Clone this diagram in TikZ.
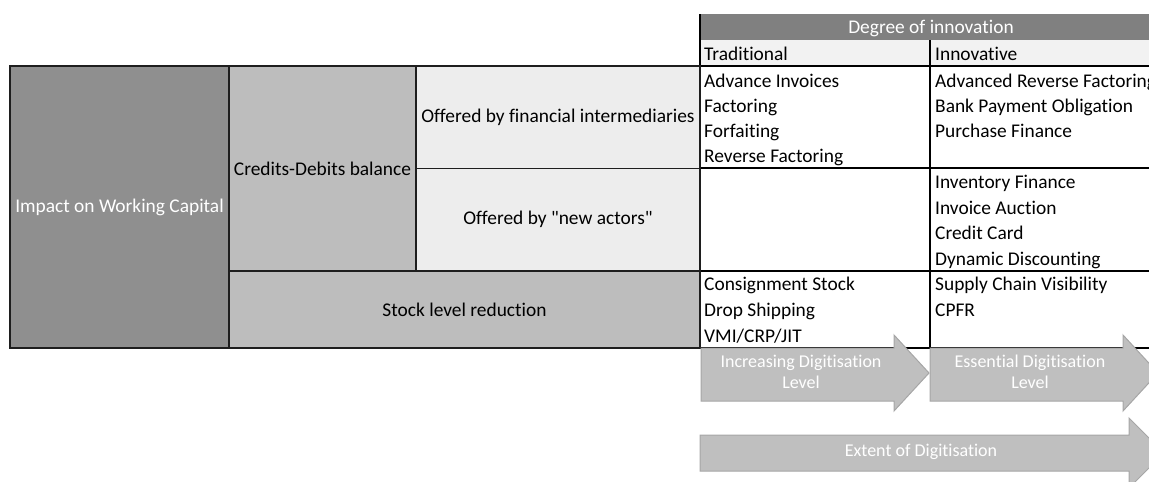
\documentclass[tikz,border=0pt]{standalone}
\usepackage{fontspec}
\setmainfont{Carlito}[Ligatures={TeX,NoCommon}]
\definecolor{headgray}{HTML}{808080}
\definecolor{rowgray}{HTML}{F2F2F2}
\definecolor{impactgray}{HTML}{8F8F8F}
\definecolor{midgray}{HTML}{BDBDBD}
\definecolor{palegray}{HTML}{EDEDED}
\definecolor{arrowgray}{HTML}{BFBFBF}
\definecolor{arrowedge}{HTML}{A6A6A6}
\definecolor{framegray}{HTML}{1E1E1E}

\begin{document}
\begin{tikzpicture}[x=1pt,y=-1pt,
        cell/.style={font=\fontsize{19.4}{25}\selectfont},
        item/.style={cell,anchor=base west,inner sep=0pt},
        digi/.style={fill=arrowgray,draw=arrowedge,line width=1pt},
        digitext/.style={font=\fontsize{18}{21.5}\selectfont,text=white,align=center}]
    \useasboundingbox (0,0) rectangle (1149,482);
    \clip (0,0) rectangle (1149,482);
    % fills
    \fill[impactgray] (10,66) rectangle (229,348);
    \fill[midgray] (229,66) rectangle (416,271);
    \fill[midgray] (229,271) rectangle (700,348);
    \fill[palegray] (416,66) rectangle (700,271);
    \fill[headgray] (700,14) rectangle (1162,40);
    \fill[rowgray] (700,40) rectangle (1162,66);
    % grid
    \draw[framegray,line width=1pt] (416,168) -- (700,168);
    \draw[framegray,line width=1.2pt] (229,271) -- (700,271);
    \draw[framegray,line width=2pt] (416,66) -- (416,271);
    \draw[framegray,line width=2pt] (229,66) -- (229,348);
    \foreach \y in {66,168,271,348}{
        \draw[line width=1.2pt] (700,\y) -- (1162,\y);
    }
    \draw[line width=1.5pt] (700,14) -- (700,348);
    \draw[line width=1.2pt] (930,40) -- (930,348);
    \draw[framegray,line width=2pt] (10,66) rectangle (700,348);
    % row labels
    \node[cell,text=white] (impact) at (119.5,207) {Impact on Working Capital};
    \node[cell] (credits) at (322.5,168.5) {Credits-Debits balance};
    \node[cell] (intermed) at (558,117) {Offered by financial intermediaries};
    \node[cell] (newactors) at (558,219.5) {Offered by \textquotedbl new actors\textquotedbl};
    \node[cell] (stock) at (464.5,309.5) {Stock level reduction};
    % column heads
    \node[cell,text=white,anchor=base,inner sep=0pt] (degree) at (931,33) {Degree of innovation};
    \node[item] (trad) at (704,60) {Traditional};
    \node[item] (innov) at (935,60) {Innovative};
    % instruments
    \foreach \t [count=\i] in {Advance Invoices,Factoring,Forfaiting,Reverse Factoring}
        \node[item] (tradA\i) at (704,62+25*\i) {\t};
    \foreach \t [count=\i] in {Advanced Reverse Factoring,Bank Payment Obligation,Purchase Finance}
        \node[item] (innovA\i) at (935,62+25*\i) {\t};
    \foreach \t [count=\i] in {Inventory Finance,Invoice Auction,Credit Card,Dynamic Discounting}
        \node[item] (innovB\i) at (935,163+25.5*\i) {\t};
    \foreach \t [count=\i] in {Consignment Stock,Drop Shipping,VMI/CRP/JIT}
        \node[item] (tradC\i) at (704,264+26*\i) {\t};
    \foreach \t [count=\i] in {Supply Chain Visibility,CPFR}
        \node[item] (innovC\i) at (935,264+26*\i) {\t};
    % digitisation arrows
    \draw[digi] (701,348) -- (894,348) -- (894,335) -- (929,373) -- (894,411) -- (894,401) -- (701,401) -- cycle;
    \draw[digi] (930,348) -- (1123,348) -- (1123,335) -- (1158,373) -- (1123,411) -- (1123,401) -- (930,401) -- cycle;
    \draw[digi] (700,435) -- (1129,435) -- (1129,418) -- (1164,453) -- (1129,488) -- (1129,471) -- (700,471) -- cycle;
    \node[digitext] (increasing) at (801,372) {Increasing Digitisation\\Level};
    \node[digitext] (essential) at (1030,372) {Essential Digitisation\\Level};
    \node[digitext] (extent) at (921,452) {Extent of Digitisation};
\end{tikzpicture}
\end{document}
